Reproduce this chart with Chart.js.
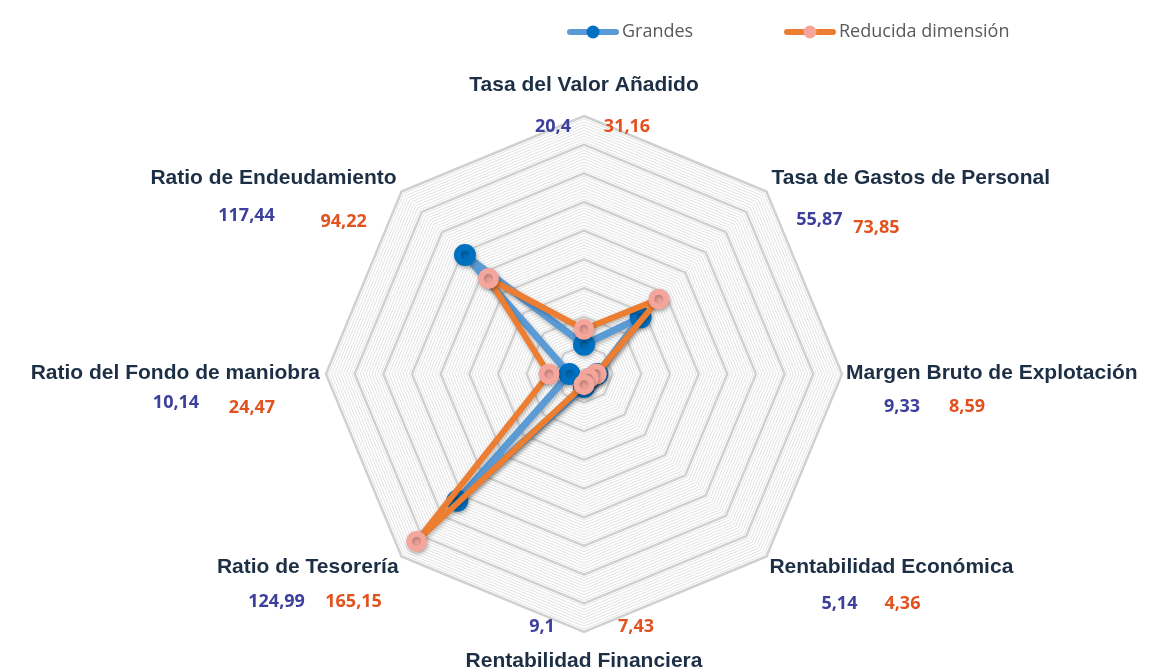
<!DOCTYPE html>
<html>
<head>
<meta charset="utf-8">
<script src="https://cdn.jsdelivr.net/npm/chart.js@4.4.1/dist/chart.umd.min.js"></script>
<style>
  html, body { margin: 0; padding: 0; background: #fff; }
  #wrap { width: 1173px; height: 672px; }
</style>
</head>
<body>
<div id="wrap"><canvas id="chart"></canvas></div>
<script>
// categories, clockwise from the top
const labels = [
    'Tasa del Valor Añadido',
    'Tasa de Gastos de Personal',
    'Margen Bruto de Explotación',
    'Rentabilidad Económica',
    'Rentabilidad Financiera',
    'Ratio de Tesorería',
    'Ratio del Fondo de maniobra',
    'Ratio de Endeudamiento'
];
const grandes = [20.4, 55.87, 9.33, 5.14, 9.1, 124.99, 10.14, 117.44];
const reducida = [31.16, 73.85, 8.59, 4.36, 7.43, 165.15, 24.47, 94.22];
const seriesNames = ['Grandes', 'Reducida dimensión'];
const scaleMax = 180;
const majorStep = 20;
const minorStep = 2;

// text placement around each vertex: [dx, dy, align]
const nameOffsets = [
    [0, -31, 'center'], [5, -13, 'left'], [4, -1, 'left'], [3, 11, 'left'],
    [0, 29, 'center'], [-3, 11, 'right'], [-6, -1, 'right'], [-5, -13, 'right']
];
// value text centres: [blue dx, blue dy, orange dx, orange dy]
const valueOffsets = [
    [-31, 11, 43, 11], [53, 28, 110, 36], [60, 33, 125, 33], [73, 47, 136, 47],
    [-42, -5, 52, -5], [-125, 45, -48, 45], [-150, 29, -74, 34], [-155, 24, -58, 30]
];

const lineColors = ['#5b9bd5', '#ed7d31'];
const dotColors = ['#0070c0', '#f4a69c'];
const valueColors = ['#3d3f9c', '#e2521f'];

const fmt = v => String(v).replace('.', ',');

const isMajor = ctx => Math.round(ctx.tick.value) % majorStep === 0;

const shadowPlugin = {
    id: 'shadow',
    beforeDatasetsDraw(chart) {
        const ctx = chart.ctx;
        ctx.save();
        ctx.shadowColor = 'rgba(0,0,0,0.28)';
        ctx.shadowBlur = 4;
        ctx.shadowOffsetX = 1;
        ctx.shadowOffsetY = 2;
    },
    afterDatasetsDraw(chart) {
        chart.ctx.restore();
    }
};

const textPlugin = {
    id: 'axisText',
    afterDraw(chart) {
        const r = chart.scales.r;
        const ctx = chart.ctx;
        ctx.save();
        ctx.textBaseline = 'middle';
        chart.data.labels.forEach((name, i) => {
            const p = r.getPointPosition(i, r.drawingArea);
            const o = nameOffsets[i];
            ctx.font = 'bold 21px "Liberation Sans", Arial, sans-serif';
            ctx.fillStyle = '#1d2f45';
            ctx.textAlign = o[2];
            ctx.fillText(name, p.x + o[0], p.y + o[1]);

            const v = valueOffsets[i];
            ctx.font = 'bold 18px "Open Sans", sans-serif';
            ctx.textAlign = 'center';
            ctx.fillStyle = valueColors[0];
            ctx.fillText(fmt(chart.data.datasets[0].data[i]), p.x + v[0], p.y + v[1]);
            ctx.fillStyle = valueColors[1];
            ctx.fillText(fmt(chart.data.datasets[1].data[i]), p.x + v[2], p.y + v[3]);
        });

        // legend: line sample with marker, then name
        const legendX = [567, 784];
        const y = 32;
        chart.data.datasets.forEach((ds, i) => {
            const x0 = legendX[i];
            ctx.strokeStyle = lineColors[i];
            ctx.lineWidth = 6;
            ctx.lineCap = 'round';
            ctx.beginPath();
            ctx.moveTo(x0 + 3, y);
            ctx.lineTo(x0 + 49, y);
            ctx.stroke();
            ctx.fillStyle = dotColors[i];
            ctx.beginPath();
            ctx.arc(x0 + 26, y, 6.5, 0, Math.PI * 2);
            ctx.fill();
            ctx.font = '18px "Open Sans", sans-serif';
            ctx.fillStyle = '#595959';
            ctx.textAlign = 'left';
            ctx.fillText(ds.label, x0 + 55, y);
        });
        ctx.restore();
    }
};

new Chart(document.getElementById('chart'), {
    type: 'radar',
    data: {
        labels,
        datasets: [{
            label: seriesNames[0],
            data: grandes,
            borderColor: lineColors[0],
            borderWidth: 7,
            pointBackgroundColor: dotColors[0],
            pointBorderColor: dotColors[0],
            pointRadius: 7.5,
            fill: false,
            order: 2,
        }, {
            label: seriesNames[1],
            data: reducida,
            borderColor: lineColors[1],
            borderWidth: 6,
            pointBackgroundColor: dotColors[1],
            pointBorderColor: dotColors[1],
            pointRadius: 7.5,
            fill: false,
            order: 1,
        }],
    },
    options: {
        responsive: true,
        maintainAspectRatio: false,
        animation: false,
        layout: { padding: { top: 116, bottom: 40, left: 0, right: 4 } },
        plugins: {
            legend: { display: false },
            title: { display: false },
            tooltip: { enabled: false },
        },
        elements: { line: { tension: 0, borderJoinStyle: 'round', borderCapStyle: 'round' } },
        scales: {
            r: {
                min: 0,
                max: scaleMax,
                ticks: { display: false, stepSize: minorStep, maxTicksLimit: 200 },
                pointLabels: { display: false },
                angleLines: { display: false },
                grid: {
                    color: ctx => isMajor(ctx) ? '#d0d0d0' : '#e2e2e2',
                    lineWidth: ctx => isMajor(ctx) ? 2.5 : 1,
                },
            },
        },
    },
    plugins: [shadowPlugin, textPlugin],
});
</script>
</body>
</html>
